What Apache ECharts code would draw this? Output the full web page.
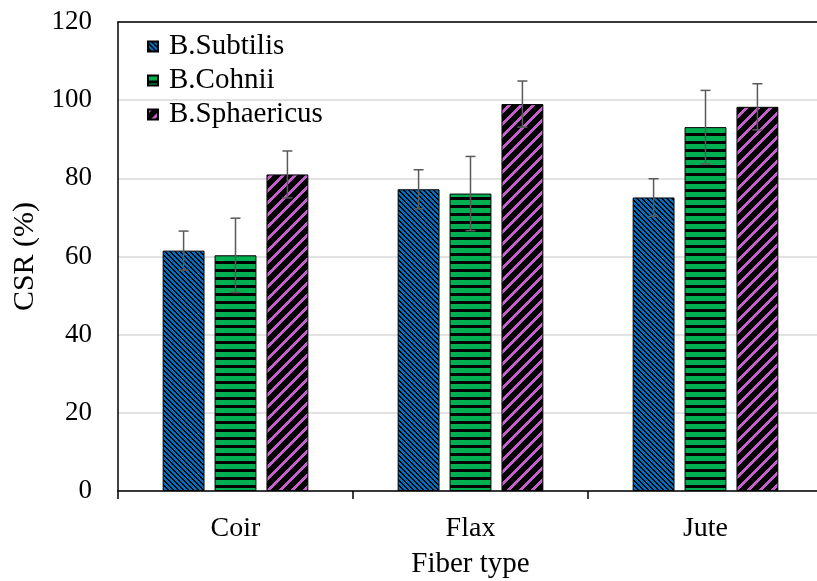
<!DOCTYPE html>
<html>
<head>
<meta charset="utf-8">
<script src="https://cdn.jsdelivr.net/npm/echarts@6/dist/echarts.min.js"></script>
<style>html,body{margin:0;padding:0;background:#fff;}#c{width:817px;height:581px;}</style>
</head>
<body>
<div id="c"></div>
<script>
var categories = ['Coir', 'Flax', 'Jute'];
var seriesNames = ['B.Subtilis', 'B.Cohnii', 'B.Sphaericus'];
var subtilis = [61.5, 77.2, 75.1];
var cohnii = [60.3, 76.1, 93.1];
var sphaericus = [81.0, 99.0, 98.3];
var subtilisErr = [5.0, 5.0, 4.8];
var cohniiErr = [9.5, 9.5, 9.4];
var sphaericusErr = [6.0, 5.9, 5.9];
var yTicks = [0, 20, 40, 60, 80, 100, 120];

var values = [subtilis, cohnii, sphaericus];
var errs = [subtilisErr, cohniiErr, sphaericusErr];

function makePattern(w, h, fg, bg, test) {
  var c = document.createElement('canvas');
  c.width = w; c.height = h;
  var ctx = c.getContext('2d');
  ctx.fillStyle = bg; ctx.fillRect(0, 0, w, h);
  ctx.fillStyle = fg;
  for (var y = 0; y < h; y++) for (var x = 0; x < w; x++) if (test(x, y)) ctx.fillRect(x, y, 1, 1);
  return { image: c, repeat: 'repeat' };
}
var patBlue = makePattern(5, 5, '#0070C0', '#000', function (x, y) { return ((x - y) % 5 + 5) % 5 < 3; });
var patGreen = makePattern(8, 8, '#00B050', '#000', function (x, y) { return y < 5; });
var patPurple = makePattern(12, 12, '#C55FCC', '#000', function (x, y) { return (x + y) % 12 < 4; });
var patterns = [patBlue, patGreen, patPurple];

var catGap = 0.38, barGap = 0.24, nSeries = 3;
var FONT = "'Liberation Serif', 'Times New Roman', serif";

var series = [];
for (var i = 0; i < 3; i++) {
  series.push({
    name: seriesNames[i],
    type: 'bar',
    data: values[i],
    barGap: (barGap * 100) + '%',
    barCategoryGap: (catGap * 100) + '%',
    itemStyle: { color: patterns[i], borderColor: '#000', borderWidth: 1 },
    emphasis: { disabled: true }
  });
}
for (var j = 0; j < 3; j++) {
  (function (si) {
    var d = [];
    for (var k = 0; k < categories.length; k++) d.push([k, values[si][k], errs[si][k]]);
    series.push({
      type: 'custom',
      silent: true,
      z: 10,
      data: d,
      renderItem: function (params, api) {
        var ci = api.value(0), v = api.value(1), e = api.value(2);
        var band = api.size([1, 0])[0];
        var bw = band * (1 - catGap) / (nSeries + (nSeries - 1) * barGap);
        var groupW = bw * nSeries + bw * barGap * (nSeries - 1);
        var off = -groupW / 2 + si * bw * (1 + barGap) + bw / 2;
        var top = api.coord([ci, v + e]);
        var bot = api.coord([ci, v - e]);
        var x = top[0] + off;
        var cap = 5;
        var st = { stroke: '#5a5a5a', lineWidth: 1.5 };
        return { type: 'group', children: [
          { type: 'line', shape: { x1: x, y1: top[1], x2: x, y2: bot[1] }, style: st },
          { type: 'line', shape: { x1: x - cap, y1: top[1], x2: x + cap, y2: top[1] }, style: st },
          { type: 'line', shape: { x1: x - cap, y1: bot[1], x2: x + cap, y2: bot[1] }, style: st }
        ]};
      }
    });
  })(j);
}

var chart = echarts.init(document.getElementById('c'));
chart.setOption({
  animation: false,
  backgroundColor: '#fff',
  textStyle: { fontFamily: FONT, color: '#000' },
  grid: { left: 118, top: 22, bottom: 90, right: -6, containLabel: false, outerBoundsMode: 'none' },
  legend: {
    data: seriesNames,
    orient: 'vertical',
    left: 147, top: 32,
    padding: 0,
    itemWidth: 10, itemHeight: 10, itemGap: 5,
    icon: 'rect',
    textStyle: { fontFamily: FONT, fontSize: 29, color: '#000', padding: [0, 0, 0, 6] },
    selectedMode: false
  },
  xAxis: [{
    type: 'category',
    data: categories,
    axisLine: { lineStyle: { color: '#000', width: 1.5 } },
    axisTick: { show: true, length: 8, lineStyle: { color: '#000', width: 1.5 } },
    axisLabel: { fontFamily: FONT, fontSize: 28, color: '#000', margin: 24 },
    name: 'Fiber type',
    nameLocation: 'middle',
    nameGap: 59,
    nameTextStyle: { fontFamily: FONT, fontSize: 29, color: '#000' }
  }, {
    type: 'category',
    position: 'top',
    data: categories,
    axisLine: { lineStyle: { color: '#000', width: 1.5 } },
    axisTick: { show: false },
    axisLabel: { show: false }
  }],
  yAxis: {
    type: 'value',
    min: 0, max: 120, interval: 20,
    axisLine: { show: true, lineStyle: { color: '#000', width: 1.5 } },
    axisTick: { show: false },
    splitLine: { lineStyle: { color: '#d9d9d9', width: 1.5 } },
    axisLabel: { fontFamily: FONT, fontSize: 27, color: '#000', margin: 26,
      formatter: function (v) { return yTicks.indexOf(v) >= 0 ? String(v) : ''; } },
    name: 'CSR (%)',
    nameLocation: 'middle',
    nameGap: 77,
    nameTextStyle: { fontFamily: FONT, fontSize: 30, color: '#000' }
  },
  series: series
});
</script>
</body>
</html>
